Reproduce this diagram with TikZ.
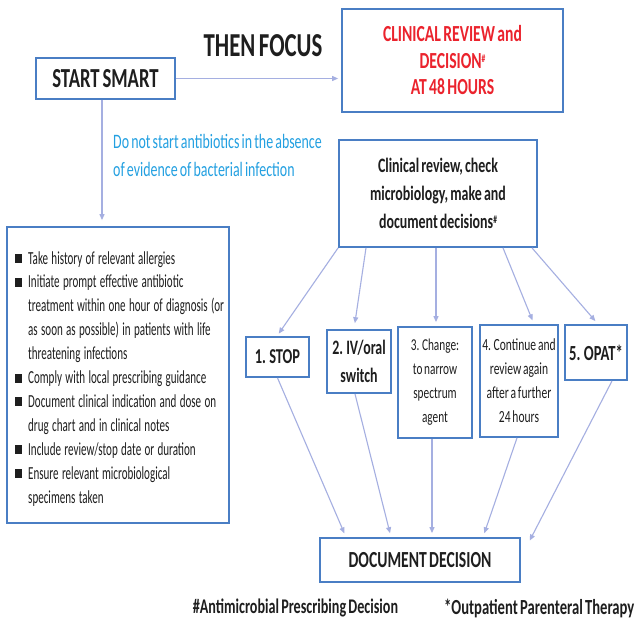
\documentclass[tikz,border=0pt]{standalone}
\usepackage{fontspec}
\setmainfont{Carlito}
\newfontfamily\cf{Carlito}[FakeStretch=0.68, WordSpace=0.68]
\newfontfamily\lstfont{Carlito}[FakeStretch=0.6, WordSpace=0.6]
\usetikzlibrary{arrows.meta,calc}
\definecolor{boxblue}{RGB}{74,126,196}
\definecolor{arrowlav}{RGB}{165,175,225}
\definecolor{redtxt}{RGB}{235,35,45}
\definecolor{bluetxt}{RGB}{35,160,225}
\definecolor{txt}{RGB}{30,30,30}
\newcommand{\fs}[2]{\fontsize{#1}{#2}\selectfont}
\newcommand{\bitem}[1]{\par\hangindent=13pt\hangafter=1\noindent\makebox[13pt][l]{\rule[1pt]{7pt}{9pt}}#1}
\newcommand{\hashsup}{\raisebox{0.55ex}{\fs{11}{11}\#}}
\begin{document}
\begin{tikzpicture}[x=1pt,y=-1pt,
  box/.style={draw=boxblue, line width=1.8pt, fill=white, inner sep=0pt, align=center, text=txt},
  conn/.style={draw=arrowlav, line width=1.1pt, shorten >=4pt, -{Triangle[length=6pt,width=5pt]}},
]
\useasboundingbox[fill=white] (0,0) rectangle (635,620);

\node[box, minimum width=139pt, minimum height=41pt, font=\cf\bfseries\fs{27.5}{28}] (start) at (105.5,78.5) {START SMART};
\node[font=\cf\bfseries\fs{33.5}{34}, text=txt, inner sep=0pt] (focus) at (263,46) {THEN FOCUS};
\node[box, minimum width=221pt, minimum height=103pt, font=\cf\bfseries\fs{23}{26.5}, text=redtxt] (crit) at (452.5,60.5) {CLINICAL REVIEW and\\DECISION\hashsup\\AT 48 HOURS};
\node[anchor=west, align=left, font=\cf\fs{20.5}{28}, text=bluetxt, inner sep=0pt] (note) at (113,155) {Do not start antibiotics in the absence\\of evidence of bacterial infection};
\node[box, minimum width=198pt, minimum height=107pt, font=\cf\bfseries\fs{20.5}{28}] (review) at (438,193.5) {Clinical review, check\\microbiology, make and\\document decisions\hashsup};

\node[box, minimum width=222pt, minimum height=296pt] (left) at (118,375) {};
\node[anchor=north west, inner sep=0pt, text width=212pt, text=txt] (list) at (15,240) {\lstfont\fs{18.4}{23.9}\raggedright
\bitem{Take history of relevant allergies}
\bitem{Initiate prompt effective antibiotic\newline treatment within one hour of diagnosis (or\newline as soon as possible) in patients with life\newline threatening infections}
\bitem{Comply with local prescribing guidance}
\bitem{Document clinical indication and dose on\newline drug chart and in clinical notes}
\bitem{Include review/stop date or duration}
\bitem{Ensure relevant microbiological\newline specimens taken}\par};

\node[box, minimum width=63pt, minimum height=40pt, font=\cf\bfseries\fs{21.2}{24}] (stop) at (277.5,357) {1. STOP};
\node[box, minimum width=64pt, minimum height=63pt, font=\cf\bfseries\fs{20.5}{28}] (iv) at (359,361.5) {2. IV/oral\\switch};
\node[box, minimum width=74pt, minimum height=111pt, font=\cf\fs{16.6}{24}] (change) at (435,382.5) {3. Change:\\to narrow\\spectrum\\agent};
\node[box, minimum width=78pt, minimum height=112pt, font=\cf\fs{17}{24}] (cont) at (519,381) {4. Continue and\\review again\\after a further\\24 hours};
\node[box, minimum width=62pt, minimum height=55pt, font=\cf\bfseries\fs{21.5}{24}] (opat) at (596,352.5) {5. OPAT*};
\node[box, minimum width=200pt, minimum height=44pt, font=\cf\bfseries\fs{23}{24}] (doc) at (420,560) {DOCUMENT DECISION};

\node[font=\cf\bfseries\fs{20.8}{22}, text=txt, inner sep=0pt] (fn1) at (295.5,608) {\#Antimicrobial Prescribing Decision};
\node[font=\cf\bfseries\fs{21.5}{22}, text=txt, inner sep=0pt, anchor=east] (fn2) at (634.5,608) {*Outpatient Parenteral Therapy};

\draw[conn, shorten >=3pt] (start.east) -- (start.east -| crit.west);
\draw[conn, shorten >=6pt] ([xshift=-3.5pt]start.south) -- ([xshift=-3.5pt]start.south |- left.north);

\draw[conn, shorten >=3pt] (review.south west) -- ([xshift=-0.5pt]stop.north);
\draw[conn, shorten >=6pt] ([xshift=-72pt]review.south) -- ([xshift=-5pt]iv.north);
\draw[conn] ([xshift=-2pt]review.south) -- ([xshift=1pt]change.north);
\draw[conn] ([xshift=65pt]review.south) -- ([xshift=15pt]cont.north);
\draw[conn] ([xshift=94pt]review.south) -- ([xshift=2pt]opat.north);

\draw[conn] (stop.south) -- ([xshift=-74pt]doc.north);
\draw[conn] ([xshift=-4pt]iv.south) -- ([xshift=-29pt]doc.north);
\draw[conn] ([xshift=-3pt]change.south) -- ([xshift=12pt]doc.north);
\draw[conn] ([xshift=-2pt]cont.south) -- ([xshift=63pt]doc.north);
\draw[conn] ([xshift=16pt]opat.south) -- ([xshift=7pt,yshift=-7pt]doc.north east);
\end{tikzpicture}
\end{document}
